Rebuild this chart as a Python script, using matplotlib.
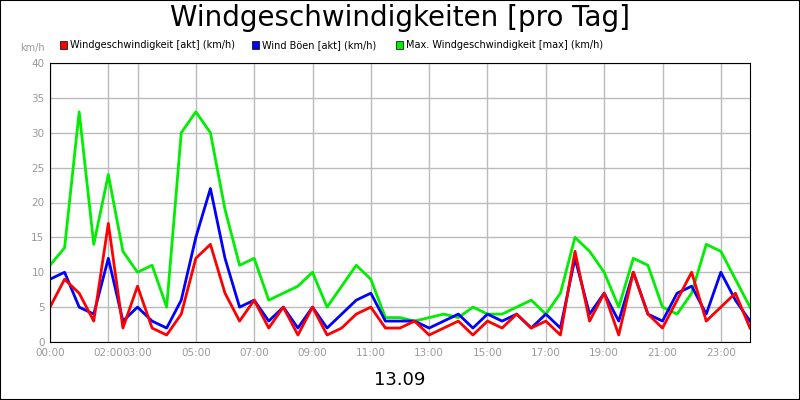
import numpy as np
import matplotlib.pyplot as plt
from matplotlib.patches import Rectangle

hours = np.arange(0, 24.5, 0.5)
wind_akt = [5, 9, 7, 3, 17, 2, 8, 2, 1, 4, 12, 14, 7, 3, 6, 2, 5, 1, 5, 1, 2, 4, 5, 2, 2,
            3, 1, 2, 3, 1, 3, 2, 4, 2, 3, 1, 13, 3, 7, 1, 10, 4, 2, 6, 10, 3, 5, 7, 2]
wind_boeen = [9, 10, 5, 4, 12, 3, 5, 3, 2, 6, 15, 22, 12, 5, 6, 3, 5, 2, 5, 2, 4, 6, 7, 3, 3,
              3, 2, 3, 4, 2, 4, 3, 4, 2, 4, 2, 12, 4, 7, 3, 10, 4, 3, 7, 8, 4, 10, 6, 3]
wind_max = [11, 13.5, 33, 14, 24, 13, 10, 11, 5, 30, 33, 30, 19, 11, 12, 6, 7, 8, 10, 5, 8, 11,
            9, 3.5, 3.5, 3, 3.5, 4, 3.5, 5, 4, 4, 5, 6, 4, 7, 15, 13, 10, 5, 12, 11, 5, 4, 7,
            14, 13, 9, 5]
tick_hours = [0, 2, 3, 5, 7, 9, 11, 13, 15, 17, 19, 21, 23]
tick_labels = ["00:00", "02:00", "03:00", "05:00", "07:00", "09:00", "11:00",
               "13:00", "15:00", "17:00", "19:00", "21:00", "23:00"]
series = [("Windgeschwindigkeit [akt] (km/h)", wind_akt, "#ff0000"),
          ("Wind Böen [akt] (km/h)", wind_boeen, "#0000ff"),
          ("Max. Windgeschwindigkeit [max] (km/h)", wind_max, "#00ee00")]

fig = plt.figure(figsize=(8, 4), dpi=100)
fig.patches.append(Rectangle((0, 0), 1, 1, transform=fig.transFigure, fill=False,
                             edgecolor="black", linewidth=1.5))
ax = fig.add_axes([50 / 800, 58 / 400, 700 / 800, 279 / 400])

for label, vals, col in reversed(series):
    ax.plot(hours, vals, color=col, linewidth=2)

ax.set_xlim(0, 24)
ax.set_ylim(0, 40)
ax.set_xticks(tick_hours)
ax.set_xticklabels(tick_labels)
ax.set_yticks(range(0, 45, 5))
ax.tick_params(colors="#999999", labelsize=7.5, length=0, pad=4)
ax.grid(True, color="#bbbbbb", linewidth=1)
for s in ax.spines.values():
    s.set_color("black")

fig.text(0.5, 0.955, "Windgeschwindigkeiten [pro Tag]", ha="center", va="center", fontsize=20)
fig.text(0.5, 0.05, "13.09", ha="center", va="center", fontsize=13)
fig.text(32 / 800, 1 - 48 / 400, "km/h", ha="center", va="center", fontsize=7, color="#999999")

lx = [60, 252, 396]
for x, (label, vals, col) in zip(lx, series):
    fig.patches.append(Rectangle((x / 800, 1 - 49 / 400), 7 / 800, 8 / 400,
                                 transform=fig.transFigure, facecolor=col, edgecolor="black",
                                 linewidth=0.5))
    fig.text((x + 10) / 800, 1 - 45 / 400, label, va="center", fontsize=7)

fig.savefig("out.png", dpi=100)
